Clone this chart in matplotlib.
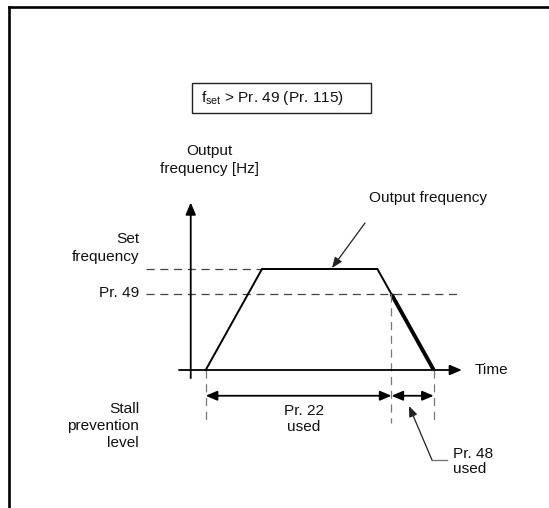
import matplotlib
matplotlib.use('Agg')
import matplotlib.pyplot as plt
from matplotlib.patches import Rectangle
from matplotlib.transforms import Affine2D

plt.rcParams['font.family'] = ['Liberation Sans', 'DejaVu Sans']
plt.rcParams['mathtext.fontset'] = 'custom'
plt.rcParams['mathtext.rm'] = 'Liberation Sans'
plt.rcParams['mathtext.it'] = 'Liberation Sans'

# ramp profile: time (accel time = 1) and output frequency (Hz)
time_pts = [0.0, 1.0, 3.05, 3.30, 4.05]
freq_pts = [0, 60, 60, 45, 0]
set_freq = 60
pr49 = 45
pr22_span = (0.0, 3.30)
pr48_span = (3.30, 4.05)

W, H = 549, 508
fig = plt.figure(figsize=(W / 100, H / 100), dpi=100)
ax = fig.add_axes([0, 0, 1, 1])
ax.axis('off')

# map data onto the page: origin at (205.7, 370) px, 56.3 px per time unit, 101 px per 60 Hz
ox, oy, sx, sy = 205.7, 370.0, 56.3, 101 / 60
ax.set_xlim(-ox / sx, (W - ox) / sx)
ax.set_ylim(-(H - oy) / sy, oy / sy)

# pixel transform for layout items (y down)
px = Affine2D().scale(1 / W, -1 / H).translate(0, 1) + fig.transFigure

fs = 11.1
ink = '#111111'

# page frame
ax.plot([8.5, W], [7, 7], color='k', lw=1.9, transform=px, clip_on=False)
ax.plot([8.5, 8.5], [7, H], color='k', lw=1.9, transform=px, clip_on=False)

# condition box
ax.add_patch(Rectangle((191.7, 82.7), 179, 30.6, fill=False, lw=1.0,
                       edgecolor='#222222', transform=px, clip_on=False))
ax.text(201, 98, r'f$_{\mathrm{set}}$ > Pr. 49 (Pr. 115)', fontsize=fs,
        ha='left', va='center', transform=px, color=ink)

# axes arrows
head = dict(arrowstyle='-|>,head_length=0.4,head_width=0.17', mutation_scale=18,
            color='k', lw=1.3, shrinkA=0, shrinkB=0)
ax.annotate('', xy=(-0.266, 99.5), xytext=(-0.266, -4.8), arrowprops=head)
ax.annotate('', xy=(4.55, 0), xytext=(-0.474, 0), arrowprops=head)
ax.text(4.78, 0, 'Time', fontsize=fs, ha='left', va='center', color=ink)

ax.text(209, 160, 'Output\nfrequency [Hz]', fontsize=fs, ha='center', va='center',
        transform=px, color=ink, linespacing=1.32)

# reference levels
dash = dict(color='#444444', lw=0.9, dashes=(6.5, 4.5))
ax.plot([-1.06, time_pts[1]], [set_freq, set_freq], **dash)
ax.plot([-1.06, 4.48], [pr49, pr49], **dash)
ax.text(139, 248, 'Set\nfrequency', fontsize=fs, ha='right', va='center',
        transform=px, color=ink, linespacing=1.3)
ax.text(139, 293, 'Pr. 49', fontsize=fs, ha='right', va='center', transform=px, color=ink)

# output frequency profile
ax.plot(time_pts[:4], freq_pts[:4], color='k', lw=1.4, solid_joinstyle='miter')
ax.plot(time_pts[3:], freq_pts[3:], color='k', lw=2.8, solid_capstyle='butt')

# vertical extent lines
vdash = dict(color='#777777', lw=0.9, dashes=(6.5, 4.5))
ax.plot([pr22_span[0]] * 2, [0, -31.5], **vdash)
ax.plot([pr48_span[0]] * 2, [pr49, -31.5], **vdash)
ax.plot([pr48_span[1]] * 2, [0, -31.5], **vdash)

# dimension arrows
dim = dict(arrowstyle='<|-|>,head_length=0.4,head_width=0.17', mutation_scale=17,
           color='k', lw=1.3, shrinkA=0, shrinkB=0)
ax.annotate('', xy=(pr22_span[1], -15.3), xytext=(pr22_span[0], -15.3), arrowprops=dim)
ax.annotate('', xy=(pr48_span[1], -15.3), xytext=(pr48_span[0], -15.3), arrowprops=dim)
ax.text(sum(pr22_span) / 2 + 0.09, -29.1, 'Pr. 22\nused', fontsize=fs, ha='center',
        va='center', color=ink, linespacing=1.1)

ax.text(139, 426, 'Stall\nprevention\nlevel', fontsize=fs, ha='right', va='center',
        transform=px, color=ink, linespacing=1.28)

# Pr. 48 leader
ax.plot([447, 432], [460, 460], color='#777777', lw=1.0, transform=px, clip_on=False)
lead = dict(arrowstyle='-|>,head_length=0.45,head_width=0.18', mutation_scale=14,
            color='#222222', lw=0.9, shrinkA=0, shrinkB=0)
ax.annotate('', xy=(409, 406), xytext=(432, 460), xycoords=px, textcoords=px,
            arrowprops=lead)
ax.text(453, 461.5, 'Pr. 48\nused', fontsize=fs, ha='left', va='center',
        transform=px, color=ink, linespacing=1.05)

# Output frequency leader
ax.text(428, 198, 'Output frequency', fontsize=fs, ha='center', va='center',
        transform=px, color=ink)
ax.annotate('', xy=(332, 268), xytext=(365, 223), xycoords=px, textcoords=px,
            arrowprops=lead)

fig.savefig('out.png', dpi=100)
